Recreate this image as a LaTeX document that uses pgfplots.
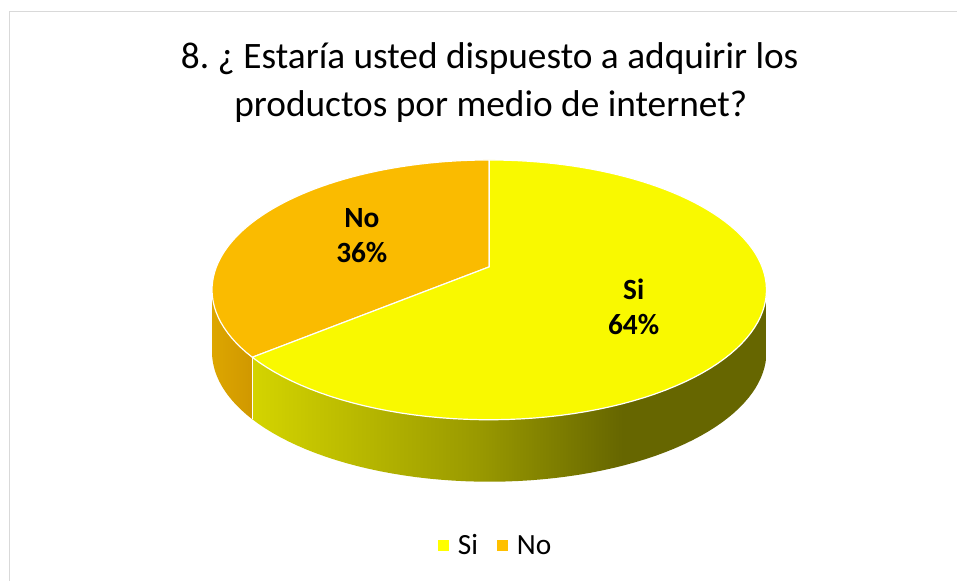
\documentclass[border=0pt]{standalone}
\usepackage{pgfplots}
\pgfplotsset{compat=1.18}
\usepackage{pgfplotstable}
\usepackage{fontspec}
\setmainfont{Carlito}
\definecolor{siTop}{HTML}{F9F900}
\definecolor{noTop}{HTML}{FABB00}
\definecolor{siLeg}{HTML}{FFFF00}
\definecolor{noLeg}{HTML}{FFC000}
\definecolor{sideA}{HTML}{D4D400}
\definecolor{sideB}{HTML}{999900}
\definecolor{sideC}{HTML}{7C7C00}
\definecolor{sideD}{HTML}{666600}
\definecolor{noSideL}{HTML}{DDA600}
\definecolor{noSideR}{HTML}{D09800}
\definecolor{frame}{HTML}{D9D9D9}
\pgfdeclarehorizontalshading{siside}{100bp}{color(0bp)=(sideA); color(25bp)=(sideA); color(47bp)=(sideB); color(55bp)=(sideC); color(61bp)=(sideD); color(75bp)=(sideD); color(100bp)=(sideD)}
\pgfplotstableread{
label value
Si 64
No 36
}\piedata
% perspective pie geometry (pixel units of the 957x581 frame, y up)
\def\cx{489.5}\def\cy{314}\def\rx{273}\def\ry{125.9}\def\pe{0.177}\def\th{62}
\newcommand{\PX}[1]{{\cx+\rx*cos(#1)/(1+\pe*sin(#1))}}
\newcommand{\PY}[1]{{\cy+\ry*sin(#1)/(1+\pe*sin(#1))}}
\newcommand{\PYb}[1]{{\cy-\th+\ry*sin(#1)/(1+\pe*sin(#1))}}
\begin{document}
\begin{tikzpicture}
\pgfplotstablegetelem{0}{value}\of\piedata \let\vSi\pgfplotsretval
\pgfplotstablegetelem{1}{value}\of\piedata \let\vNo\pgfplotsretval
\pgfmathsetmacro{\tot}{\vSi+\vNo}
\pgfmathsetmacro{\aB}{90+360*\vNo/\tot}
\pgfmathtruncatemacro{\pSi}{round(100*\vSi/\tot)}
\pgfmathtruncatemacro{\pNo}{round(100*\vNo/\tot)}
\begin{axis}[
  scale only axis, width=717.75pt, height=435.75pt,
  xmin=0, xmax=957, ymin=0, ymax=581,
  hide axis, clip=false,
  legend style={at={(axis cs:496,35)}, anchor=center, draw=none, fill=none,
    legend columns=2, font=\fontsize{22}{26}\selectfont,
    /tikz/every even column/.append style={column sep=12pt}},
  legend image code/.code={\fill[#1] (0pt,-3.75pt) rectangle (7.5pt,3.75pt); \path (12.75pt,0pt);},
]
\fill[white] (axis cs:0,0) rectangle (axis cs:957,581);
\draw[frame, line width=0.75pt] (axis cs:9.5,0) -- (axis cs:9.5,569.5) -- (axis cs:957,569.5);
% sides
\shade[left color=noSideL, right color=noSideR]
  plot[domain=190.2:\aB, samples=30, variable=\t] (\PX{\t}, \PY{\t})
  -- plot[domain=\aB:190.2, samples=30, variable=\t] (\PX{\t}, \PYb{\t}) -- cycle;
\shade[shading=siside]
  plot[domain=\aB:349.8, samples=60, variable=\t] (\PX{\t}, \PY{\t})
  -- plot[domain=349.8:\aB, samples=60, variable=\t] (\PX{\t}, \PYb{\t}) -- cycle;
\draw[white, line width=0.9pt] (\PX{\aB}, \PY{\aB}) -- (\PX{\aB}, \PYb{\aB});
% tops
\filldraw[fill=noTop, draw=white, line width=0.9pt, line join=round]
  (axis cs:\cx,\cy) -- plot[domain=90:\aB, samples=60, variable=\t] (\PX{\t}, \PY{\t}) -- cycle;
\filldraw[fill=siTop, draw=white, line width=0.9pt, line join=round]
  (axis cs:\cx,\cy) -- plot[domain=\aB:450, samples=100, variable=\t] (\PX{\t}, \PY{\t}) -- cycle;
% labels
\node[anchor=base, font=\fontsize{22}{26}\selectfont\bfseries] at (axis cs:362,353) {No};
\node[anchor=base, font=\fontsize{22}{26}\selectfont\bfseries] at (axis cs:362,318) {\pNo\%};
\node[anchor=base, font=\fontsize{22}{26}\selectfont\bfseries] at (axis cs:634,281) {Si};
\node[anchor=base, font=\fontsize{22}{26}\selectfont\bfseries] at (axis cs:634,246) {\pSi\%};
% title
\node[anchor=base, font=\fontsize{28}{34}\selectfont] at (axis cs:490,512) {8.\ ¿ Estaría usted dispuesto a adquirir los};
\node[anchor=base, font=\fontsize{28}{34}\selectfont] at (axis cs:491,464) {productos por medio de internet?};
\addlegendimage{siLeg}
\addlegendimage{noLeg}
\legend{Si, No}
\end{axis}
\end{tikzpicture}
\end{document}
